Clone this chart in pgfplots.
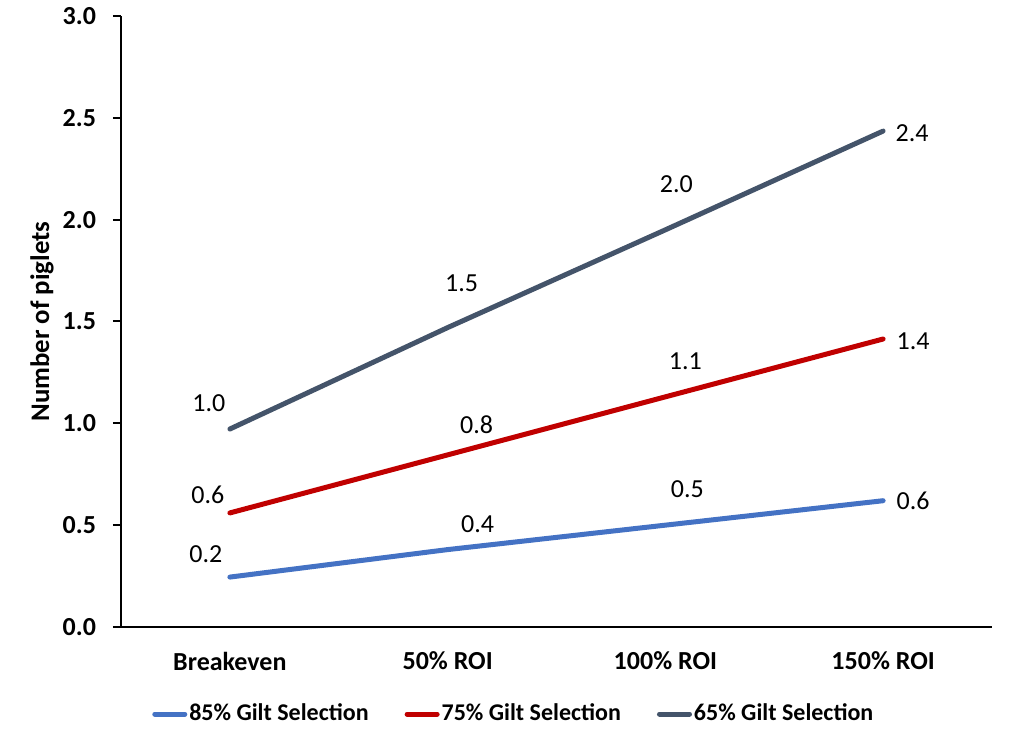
\documentclass[border=0pt]{standalone}
\usepackage{fontspec}
\setmainfont{Carlito}
\usepackage{pgfplots}
\usepackage{pgfplotstable}
\pgfplotsset{compat=1.18}
\definecolor{cblue}{HTML}{4472C4}
\definecolor{cred}{HTML}{C00000}
\definecolor{cgray}{HTML}{44546A}

\pgfplotstableread{
x y lab dx dy
0 0.245 0.2 -12 11.5
1 0.38 0.4 15 12.5
2 0.50 0.5 11 18
3 0.62 0.6 15 0
}\bluet
\pgfplotstableread{
x y lab dx dy
0 0.56 0.6 -11 9
1 0.845 0.8 14.5 15
2 1.13 1.1 10 18
3 1.414 1.4 15 -1
}\redt
\pgfplotstableread{
x y lab dx dy
0 0.972 1.0 -10.5 13
1 1.47 1.5 7 22
2 1.95 2.0 5.5 23
3 2.435 2.4 14.5 -1
}\grayt

\pgfplotsset{
  mylab/.style={
    draw=none, no markers, forget plot,
    nodes near coords,
    point meta=explicit symbolic,
    visualization depends on={\thisrow{dx}\as\mydx},
    visualization depends on={\thisrow{dy}\as\mydy},
    every node near coord/.append style={anchor=center, text=black, font=\fontsize{13}{15}\selectfont, xshift=\mydx, yshift=\mydy},
  }
}

\begin{document}
\begin{tikzpicture}
\begin{axis}[
  name=ax,
  scale only axis,
  width=435.5pt, height=305.5pt,
  xmin=-0.5, xmax=3.5,
  ymin=0, ymax=3,
  axis x line*=bottom, axis y line*=left,
  axis line style={-, line width=1.4pt, black},
  xtick={0,1,2,3},
  xticklabels={Breakeven, 50\% ROI, 100\% ROI, 150\% ROI},
  major x tick style={draw=none},
  ytick={0,0.5,1,1.5,2,2.5,3},
  tick align=outside,
  major tick length=4pt,
  major y tick style={line width=1pt, black},
  /pgf/number format/assume math mode=true,
  yticklabel style={/pgf/number format/fixed, /pgf/number format/fixed zerofill, /pgf/number format/precision=1, font=\fontsize{13}{15}\selectfont\bfseries, xshift=-5pt},
  xticklabel style={font=\fontsize{13}{15}\selectfont\bfseries, yshift=-5pt},
  ylabel={Number of piglets},
  ylabel style={font=\fontsize{13.4}{16}\selectfont\bfseries, at={(axis description cs:-0.0907,0.5)}, anchor=center},
  clip=false,
  legend style={at={(0.451,-0.1425)}, anchor=center, draw=none, legend columns=3,
    font=\fontsize{12}{14}\selectfont\bfseries,
    /tikz/every even column/.append style={column sep=17pt},
    nodes={inner sep=1pt}},
  legend image code/.code={\draw[#1, line width=2.5pt, line cap=round] (0pt,0pt) -- (15pt,0pt);},
]
\addplot[cblue, line width=2.5pt, line cap=round, no markers] table[x=x, y=y]{\bluet};
\addlegendentry{85\% Gilt Selection}
\addplot[cred, line width=2.5pt, line cap=round, no markers] table[x=x, y=y]{\redt};
\addlegendentry{75\% Gilt Selection}
\addplot[cgray, line width=2.5pt, line cap=round, no markers] table[x=x, y=y]{\grayt};
\addlegendentry{65\% Gilt Selection}
\addplot[mylab] table[x=x, y=y, meta=lab]{\bluet};
\addplot[mylab] table[x=x, y=y, meta=lab]{\redt};
\addplot[mylab] table[x=x, y=y, meta=lab]{\grayt};
\end{axis}
\pgfresetboundingbox
\path[use as bounding box] ([xshift=-60.5pt,yshift=-57.5pt]ax.south west) rectangle ([xshift=16pt,yshift=8pt]ax.north east);
\end{tikzpicture}
\end{document}
